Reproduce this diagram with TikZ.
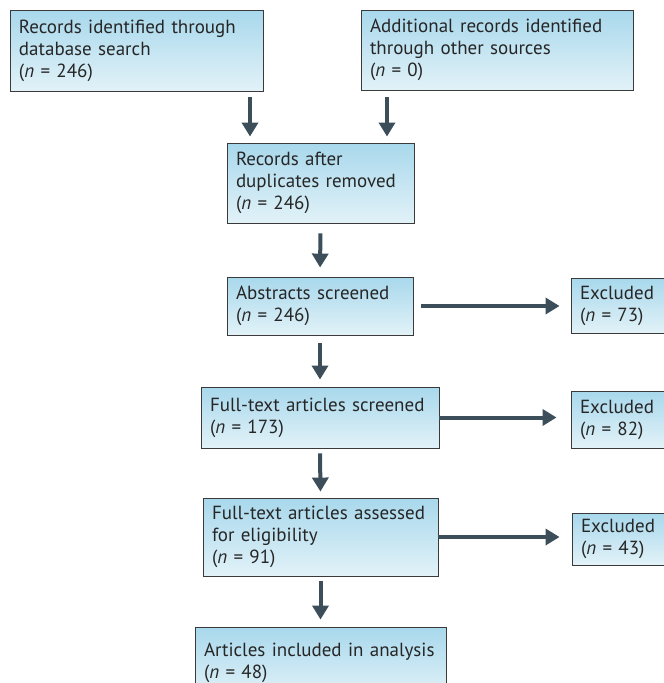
\documentclass[tikz,border=0pt]{standalone}
\usepackage{fontspec}
\setmainfont{PT Sans}
\usetikzlibrary{arrows.meta}
\definecolor{boxtop}{HTML}{A8D8EC}
\definecolor{boxbot}{HTML}{E2F2F8}
\definecolor{boxline}{HTML}{3A3A3A}
\definecolor{arrcol}{HTML}{3C4E5A}
\newcommand\nval[1]{(\textit{n} = #1)}
\tikzset{
  flowbox/.style={rectangle, draw=boxline, line width=0.9pt, top color=boxtop, bottom color=boxbot,
    align=left, inner xsep=9pt, inner ysep=0pt, font=\fontsize{19}{22}\selectfont, text=black!85},
  arr/.style={draw=arrcol, line width=4pt, -{Triangle[length=14pt,width=16pt]}}
}
\begin{document}
\begin{tikzpicture}[x=1pt,y=-1pt]
\useasboundingbox (0,0) rectangle (664,683);
\clip (0,0) rectangle (664,683);
\node[flowbox, text width=235pt, minimum height=81pt] (B1) at (136.5,50.5) {\mbox{Records identified through}\\database search\\\nval{246}};
\node[flowbox, text width=254pt, minimum height=80pt] (B2) at (497,50) {\mbox{Additional records identified}\\through other sources\\\nval{0}};
\node[flowbox, text width=169pt, minimum height=80pt] (B3) at (320.5,183) {Records after\\\mbox{duplicates removed}\\\nval{246}};
\node[flowbox, text width=168pt, minimum height=58pt] (B4) at (320,306) {\mbox{Abstracts screened}\\\nval{246}};
\node[flowbox, text width=92pt, minimum height=55pt] (E1) at (626,305.5) {Excluded\\\nval{73}};
\node[flowbox, text width=220pt, minimum height=61pt] (B5) at (320,417.5) {\mbox{Full-text articles screened}\\\nval{173}};
\node[flowbox, text width=92pt, minimum height=57pt] (E2) at (626,419.5) {Excluded\\\nval{82}};
\node[flowbox, text width=217pt, minimum height=78pt] (B6) at (320.5,537) {\mbox{Full-text articles assessed}\\for eligibility\\\nval{91}};
\node[flowbox, text width=92pt, minimum height=52pt] (E3) at (627,539) {Excluded\\\nval{43}};
\node[flowbox, text width=233pt, minimum height=70pt, text depth=24pt] (B7) at (320.5,662) {\mbox{Articles included in analysis}\\\nval{48}};
\coordinate (xa) at (250,0);
\coordinate (xb) at (387,0);
\draw[arr, shorten <=6pt, shorten >=6pt] (B1.south -| xa) -- (B3.north -| xa);
\draw[arr, shorten <=7pt, shorten >=6pt] (B2.south -| xb) -- (B3.north -| xb);
\draw[arr, shorten <=10pt, shorten >=9pt] (B3.south) -- (B4.north);
\draw[arr, shorten <=8pt, shorten >=7pt] (B4.south) -- (B5.north);
\draw[arr, shorten <=5pt, shorten >=6pt] (B5.south) -- (B6.north);
\draw[arr, shorten <=5pt, shorten >=7pt] (B6.south) -- (B7.north);
\draw[arr, shorten <=8pt, shorten >=11pt] (B4.east) -- (E1.west |- B4.east);
\draw[arr, shorten >=14pt] (B5.east) -- (E2.west |- B5.east);
\draw[arr, shorten >=12pt] (B6.east) -- (E3.west |- B6.east);
\end{tikzpicture}
\end{document}
